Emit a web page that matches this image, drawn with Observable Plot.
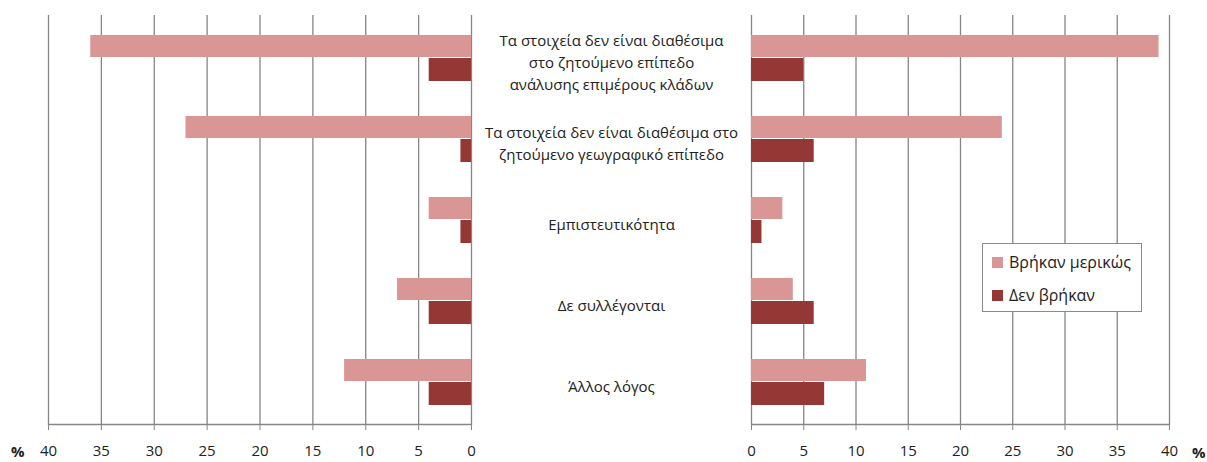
<!DOCTYPE html>
<html>
<head>
<meta charset="utf-8">
<script src="https://cdn.jsdelivr.net/npm/d3@7"></script>
<script src="https://cdn.jsdelivr.net/npm/@observablehq/plot@0.6"></script>
<style>
  html, body { margin: 0; padding: 0; background: #fff; }
  #wrap { position: relative; width: 1207px; height: 462px; font-family: "Open Sans", sans-serif; overflow: hidden; }
  #left, #right { position: absolute; top: 0; }
  #left { left: 0; }
  #right { left: 490px; }
  .pct { position: absolute; font-size: 15px; line-height: 15px; font-weight: bold; color: #222; }
  #legend { position: absolute; left: 982px; top: 243px; width: 158px; height: 67px; border: 1.5px solid #8a8a8a; background: #fff; }
  .lrow { position: absolute; left: 9px; display: flex; align-items: center; font-size: 16px; color: #222; white-space: nowrap; }
  .sw { width: 11px; height: 11px; margin-right: 6px; }
</style>
</head>
<body>
<div id="wrap">
  <div id="left"></div>
  <div id="right"></div>
  <div class="pct" style="left:11px; top:444px;">%</div>
  <div class="pct" style="left:1192px; top:445px;">%</div>
  <div id="legend"></div>
</div>
<script>
const categories = [
  "Τα στοιχεία δεν είναι διαθέσιμα\nστο ζητούμενο επίπεδο\nανάλυσης επιμέρους κλάδων",
  "Τα στοιχεία δεν είναι διαθέσιμα στο\nζητούμενο γεωγραφικό επίπεδο",
  "Εμπιστευτικότητα",
  "Δε συλλέγονται",
  "Άλλος λόγος"
];
const series = ["Βρήκαν μερικώς", "Δεν βρήκαν"];
const leftPartly = [36, 27, 4, 7, 12];
const leftNotFound = [4, 1, 1, 4, 4];
const rightPartly = [39, 24, 3, 4, 11];
const rightNotFound = [5, 6, 1, 6, 7];
const xTicks = [0, 5, 10, 15, 20, 25, 30, 35, 40];

const PINK = "#D99694";
const DARK = "#953735";
const GRID = "#868686";

function rows(values, s) {
  return categories.map((c, i) => ({category: c, series: s, value: values[i]}));
}

function panel(opts) {
  const partly = rows(opts.partly, series[0]);
  const notFound = rows(opts.notFound, series[1]);
  const marks = [
    Plot.gridX(xTicks, {stroke: GRID, strokeOpacity: 1, strokeWidth: 1.3}),
    Plot.barX(partly, {x: "value", y: "category", fill: "series", insetTop: 18, insetBottom: 41}),
    Plot.barX(notFound, {x: "value", y: "category", fill: "series", insetTop: 41, insetBottom: 17}),
    Plot.frame({anchor: "bottom", stroke: GRID, strokeWidth: 1.3}),
    Plot.axisX({ticks: xTicks, tickSize: 6, tickPadding: 15, fontSize: 15, stroke: GRID, fill: "#222", label: null})
  ];
  if (opts.labels) {
    marks.push(Plot.text(categories, {
      x: () => 0, y: d => d, text: d => d, dx: -140, dy: 3,
      textAnchor: "middle", lineHeight: 1.45, fontSize: 15, fill: "#222"
    }));
  }
  return Plot.plot({
    width: opts.width, height: 462,
    marginLeft: opts.marginLeft, marginRight: opts.marginRight,
    marginTop: 15, marginBottom: 38,
    style: {fontFamily: "Open Sans, sans-serif", fontSize: "14px", background: "transparent", overflow: "visible"},
    x: {domain: opts.domain, ticks: xTicks},
    y: {domain: categories, padding: 0, axis: null},
    color: {domain: series, range: [PINK, DARK]},
    marks
  });
}

document.getElementById("left").appendChild(panel({
  width: 490, marginLeft: 48, marginRight: 19, domain: [40, 0],
  partly: leftPartly, notFound: leftNotFound
}));
document.getElementById("right").appendChild(panel({
  width: 717, marginLeft: 261, marginRight: 38, domain: [0, 40],
  partly: rightPartly, notFound: rightNotFound, labels: true
}));

const legend = document.getElementById("legend");
series.forEach((s, i) => {
  const row = document.createElement("div");
  row.className = "lrow";
  row.style.top = (i === 0 ? 7 : 40) + "px";
  const sw = document.createElement("div");
  sw.className = "sw";
  sw.style.background = [PINK, DARK][i];
  const t = document.createElement("span");
  t.textContent = s;
  row.appendChild(sw);
  row.appendChild(t);
  legend.appendChild(row);
});
</script>
</body>
</html>
